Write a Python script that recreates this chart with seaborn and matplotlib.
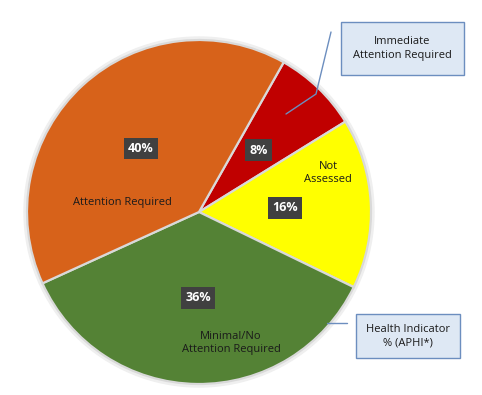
import matplotlib
matplotlib.use("Agg")
import matplotlib.pyplot as plt
import seaborn as sns
from matplotlib.patches import Circle, FancyBboxPatch

# Slice data (clockwise from the top-right)
categories = ["Immediate Attention Required", "Not Assessed",
              "Minimal/No Attention Required", "Attention Required"]
shares = [8, 16, 36, 40]
slice_colors = ["#C00000", "#FFFF00", "#548235", "#D7621A"]

sns.set_theme(style="white")
plt.rcParams['font.family'] = ['Open Sans', 'DejaVu Sans']

fig = plt.figure(figsize=(4.82, 3.95), dpi=100)
ax = fig.add_axes([0, 0, 1, 1])

cx, cy, r = 199, 183, 172

# faint halo behind the pie
ax.add_patch(Circle((cx, cy), r + 3, color="#efefef", zorder=0))

wedges, texts, pcts = ax.pie(
    shares, colors=sns.color_palette(slice_colors), startangle=60.5,
    counterclock=False, center=(cx, cy), radius=r,
    autopct=lambda p: f"{p:.0f}%", pctdistance=0.5,
    wedgeprops=dict(edgecolor="#d9d9d9", linewidth=1.6),
    textprops=dict(color="white", fontsize=9, fontweight="bold"))

for t in pcts:
    t.set_bbox(dict(boxstyle="square,pad=0.35", fc="#404040", ec="none"))

ax.set_xlim(0, 482)
ax.set_ylim(0, 395)
ax.set_aspect("auto")
ax.axis("off")

# category labels inside slices
ax.text(122, 395 - 203, "Attention Required", ha="center", va="center",
        fontsize=8, color="#1a1a1a")
ax.text(328, 395 - 173, "Not\nAssessed", ha="center", va="center",
        fontsize=8, color="#1a1a1a", linespacing=1.3)
ax.text(231, 395 - 343, "Minimal/No\nAttention Required", ha="center",
        va="center", fontsize=8, color="#1a1a1a", linespacing=1.3)

# callout boxes
def callout(x0, y0, x1, y1, text):
    ax.add_patch(FancyBboxPatch((x0, 395 - y1), x1 - x0, y1 - y0,
                                boxstyle="square,pad=0", fc="#DEE8F4",
                                ec="#6C8EBF", lw=1.0, zorder=5))
    ax.text((x0 + x1) / 2, 395 - (y0 + y1) / 2, text, ha="center",
            va="center", fontsize=8, color="#1a1a1a", zorder=6,
            linespacing=1.3)

callout(341, 22, 464, 75, "Immediate\nAttention Required")
callout(356, 314, 460, 358, "Health Indicator\n% (APHI*)")

ax.plot([331, 316, 286], [395 - 32, 395 - 94, 395 - 114],
        color="#6C8EBF", lw=1.0, zorder=4)
ax.plot([327, 347], [395 - 323, 395 - 323], color="#6C8EBF", lw=1.0,
        zorder=4)

fig.savefig("out.png", dpi=100)
